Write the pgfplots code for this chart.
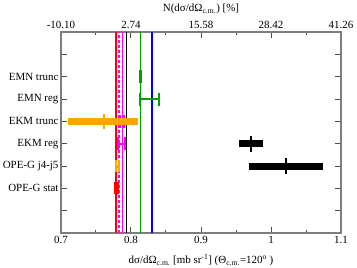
\documentclass[border=0pt]{standalone}
\usepackage{pgfplots}
\pgfplotsset{compat=1.18}
\usepackage{fontspec}
\setmainfont{Liberation Serif}
\definecolor{xgreen}{RGB}{0,160,0}
\definecolor{xorange}{RGB}{255,165,0}
\definecolor{xblue}{RGB}{0,0,255}
\definecolor{xred}{RGB}{255,0,0}
\definecolor{xmag}{RGB}{255,0,255}
\definecolor{framegray}{RGB}{125,125,125}
\begin{document}
\begin{tikzpicture}
\useasboundingbox (-61bp,-35bp) rectangle (296bp,233bp);
\begin{axis}[
 at={(0,0)}, anchor=south west,
 scale only axis, width=280bp, height=201bp,
 xmin=0.7, xmax=1.1, ymin=0, ymax=9,
 xtick={0.7,0.8,0.9,1.0,1.1}, xticklabels={0.7,0.8,0.9,1,1.1},
 minor xtick={0.75,0.85,0.95,1.05},
 ytick={1,2,3,4,5,6,7,8}, yticklabels={,OPE-G stat,OPE-G j4-j5,EKM reg,EKM trunc,EMN reg,EMN trunc,},
 tick align=inside, xtick pos=both, ytick pos=both, xticklabel pos=lower, yticklabel pos=left,
 axis line style={framegray, line width=1.5bp},
 major tick style={black!70, line width=1bp},
 minor tick style={black!70, line width=1bp},
 major tick length=6bp, minor tick length=3bp,
 tick label style={font=\fontsize{11}{13}\selectfont},
 yticklabel style={xshift=1bp},
 label style={font=\fontsize{11}{13}\selectfont},
 xlabel={dσ/dΩ\textsubscript{c.m.} [mb sr\textsuperscript{-1}] (Θ\textsubscript{c.m.}=120\textsuperscript{o} )},
 xlabel style={yshift=-4bp},
]
% vertical reference lines
\addplot[xred, line width=1.3bp] coordinates {(0.7786,0) (0.7786,9)};
\addplot[xmag, dash pattern=on 3bp off 2bp, line width=1.1bp] coordinates {(0.7829,0) (0.7829,9)};
\addplot[xmag, line width=1.1bp] coordinates {(0.7876,0) (0.7876,9)};
\addplot[black, line width=1.1bp] coordinates {(0.7933,0) (0.7933,9)};
\addplot[xgreen, line width=1.3bp] coordinates {(0.8133,0) (0.8133,9)};
\addplot[xblue, line width=1.3bp] coordinates {(0.8300,0) (0.8300,9)};
% EMN trunc
\addplot[xgreen, mark=|, mark size=6.5bp, mark options={draw=xgreen, line width=2.5bp}] coordinates {(0.8138,7)};
% EMN reg
\addplot[xgreen, mark=none, error bars/.cd, x dir=both, x explicit, error mark=|,
  error bar style={draw=xgreen, line width=1.3bp}, error mark options={draw=xgreen, mark size=6.5bp, line width=1.3bp}]
  coordinates {(0.8265,6) +- (0.0135,0)};
% EKM trunc magenta
\addplot[xmag, mark=none, error bars/.cd, x dir=both, x explicit, error mark=|,
  error bar style={draw=xmag, line width=2bp}, error mark options={draw=xmag, mark size=6.5bp, line width=2bp}]
  coordinates {(0.7870,5) +- (0.0030,0)};
% EKM trunc orange
\addplot[xorange, mark=|, mark size=7.5bp, mark options={draw=xorange, line width=2.5bp}, error bars/.cd, x dir=both, x explicit,
  error bar style={draw=xorange, line width=7.5bp}, error mark=none]
  coordinates {(0.7614,5) += (0.049,0) -= (0.051,0)};
% EKM reg magenta
\addplot[xmag, mark=none, error bars/.cd, x dir=both, x explicit, error mark=|,
  error bar style={draw=xmag, line width=2bp}, error mark options={draw=xmag, mark size=6.5bp, line width=2bp}]
  coordinates {(0.7865,4) +- (0.0048,0)};
% EKM reg black
\addplot[black, mark=|, mark size=8bp, mark options={line width=2bp}, error bars/.cd, x dir=both, x explicit,
  error bar style={draw=black, line width=7bp}, error mark=none]
  coordinates {(0.9714,4) += (0.0176,0) -= (0.0177,0)};
% OPE-G j4-j5 black
\addplot[black, mark=|, mark size=8bp, mark options={line width=2bp}, error bars/.cd, x dir=both, x explicit,
  error bar style={draw=black, line width=7bp}, error mark=none]
  coordinates {(1.0214,3) += (0.0533,0) -= (0.0534,0)};
% OPE-G j4-j5 orange
\addplot[xorange, mark=none, error bars/.cd, x dir=both, x explicit, error mark=|,
  error bar style={draw=xorange, line width=3bp}, error mark options={draw=xorange, mark size=6bp, line width=2bp}]
  coordinates {(0.7810,3) +- (0.0022,0)};
% OPE-G stat red
\addplot[xred, mark=none, error bars/.cd, x dir=both, x explicit, error mark=|,
  error bar style={draw=xred, line width=3bp}, error mark options={draw=xred, mark size=6bp, line width=2bp}]
  coordinates {(0.7790,2) +- (0.0022,0)};
\end{axis}
\begin{axis}[
 at={(0,0)}, anchor=south west,
 scale only axis, width=280bp, height=201bp,
 xmin=0.7, xmax=1.1, ymin=0, ymax=9,
 axis x line*=top, axis y line=none,
 x axis line style={draw=none},
 xtick={0.7,0.8,0.9,1.0,1.1}, xticklabels={-10.10,2.74,15.58,28.42,41.26},
 major tick length=0pt,
 tick label style={font=\fontsize{11}{13}\selectfont},
 label style={font=\fontsize{11}{13}\selectfont},
 xlabel={N(dσ/dΩ\textsubscript{c.m.}) [\%]},
]
\addplot[draw=none] coordinates {(0.7,0)};
\end{axis}
\end{tikzpicture}
\end{document}
